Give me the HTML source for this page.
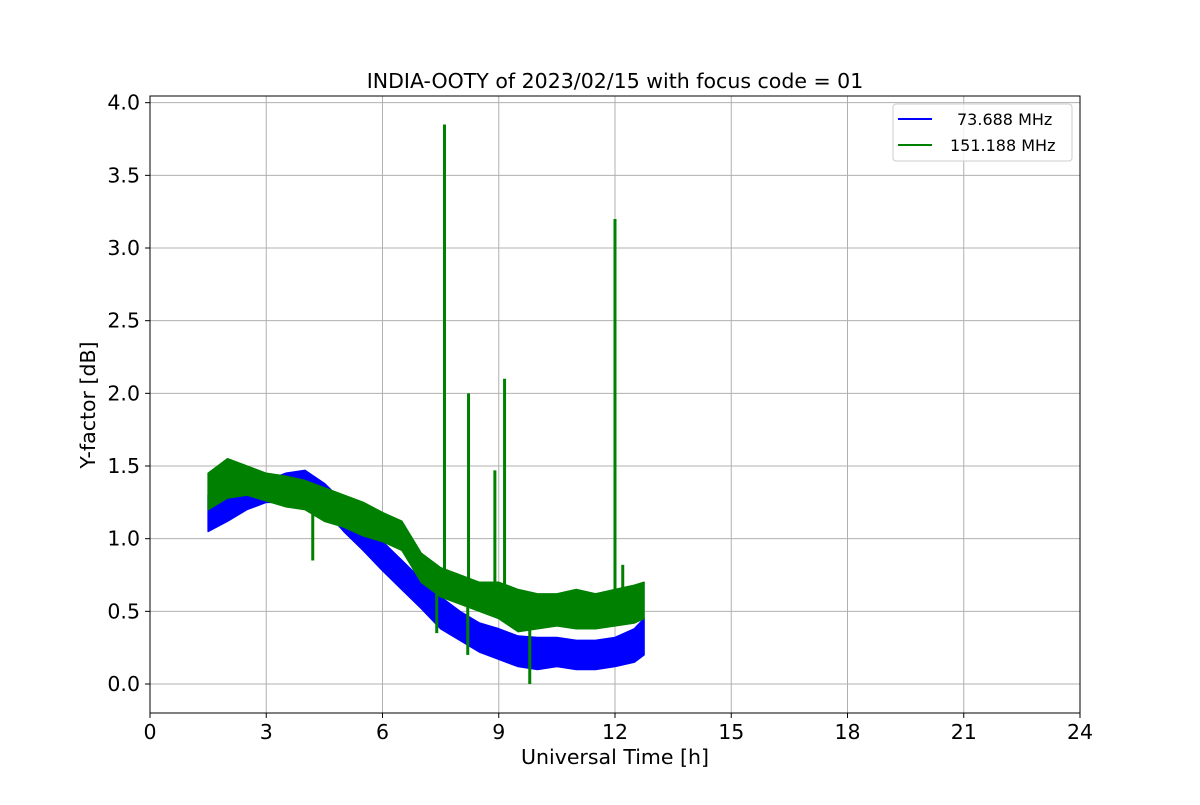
<!DOCTYPE html>
<html><head><meta charset="utf-8"><style>
body{margin:0;background:#fff;width:1200px;height:800px;overflow:hidden}
svg text{font-family:"DejaVu Sans","Liberation Sans",sans-serif;fill:#000}
</style></head><body>
<svg id="chart" width="1200" height="800" xmlns="http://www.w3.org/2000/svg">
<g id="grid"></g>
<g id="series"></g>
<rect x="150" y="96" width="930" height="617" fill="none" stroke="#000" stroke-width="1"/>
<g id="ticks"></g>
<text x="615" y="88" font-size="20.5" text-anchor="middle">INDIA-OOTY of 2023/02/15 with focus code = 01</text>
<text x="615" y="764" font-size="20.5" text-anchor="middle">Universal Time [h]</text>
<text x="95" y="405" font-size="20.5" text-anchor="middle" transform="rotate(-90 95 405)">Y-factor [dB]</text>
<g>
<rect x="893" y="104" width="179" height="57" rx="3" fill="#fff" fill-opacity="0.8" stroke="#ccc"/>
<line x1="898" y1="119" x2="932" y2="119" stroke="#0000ff" stroke-width="2"/>
<text x="957" y="125" font-size="16">73.688 MHz</text>
<line x1="898" y1="145" x2="932" y2="145" stroke="#008000" stroke-width="2"/>
<text x="950" y="151" font-size="16">151.188 MHz</text>
</g>
</svg>
<script>
const xTicks=[0,3,6,9,12,15,18,21,24];
const yTicks=[0.0,0.5,1.0,1.5,2.0,2.5,3.0,3.5,4.0];
const times=[1.5,2,2.5,3,3.5,4,4.5,5,5.5,6,6.5,7,7.5,8,8.5,9,9.5,10,10.5,11,11.5,12,12.5,12.75];
const blueLow=[1.05,1.12,1.2,1.25,1.25,1.3,1.2,1.05,0.92,0.78,0.65,0.52,0.38,0.3,0.22,0.17,0.12,0.1,0.12,0.1,0.1,0.12,0.15,0.2];
const blueHigh=[1.3,1.3,1.35,1.4,1.45,1.47,1.38,1.25,1.1,0.98,0.85,0.72,0.6,0.5,0.42,0.38,0.33,0.32,0.32,0.3,0.3,0.32,0.38,0.45];
const greenLow=[1.2,1.28,1.3,1.26,1.22,1.2,1.12,1.08,1.02,0.98,0.92,0.7,0.6,0.55,0.5,0.45,0.36,0.38,0.4,0.38,0.38,0.4,0.42,0.45];
const greenHigh=[1.45,1.55,1.5,1.45,1.43,1.4,1.35,1.3,1.25,1.18,1.12,0.9,0.8,0.75,0.7,0.7,0.65,0.62,0.62,0.65,0.62,0.65,0.68,0.7];
const spikeT=[7.6,8.22,8.9,9.15,12.0,4.2,8.2,9.8,7.4,12.2];
const spikeV=[3.85,2.0,1.47,2.1,3.2,0.85,0.2,0.0,0.35,0.82];
const spikeBase=[0.7,0.65,0.6,0.6,0.5,1.2,0.6,0.45,0.65,0.55];
const X=t=>150+t*930/24;
const Y=v=>684-v*145.33;
const NS="http://www.w3.org/2000/svg";
const grid=document.getElementById('grid'),ticks=document.getElementById('ticks'),ser=document.getElementById('series');
function mk(tag,attrs,parent){const e=document.createElementNS(NS,tag);for(const k in attrs)e.setAttribute(k,attrs[k]);parent.appendChild(e);return e;}
xTicks.forEach(t=>{
 const g=mk('line',{x1:X(t),x2:X(t),y1:96,y2:713,stroke:'#b0b0b0','stroke-width':1},grid);
 
 
 const tk=mk('line',{x1:X(t),x2:X(t),y1:713,y2:718,stroke:'#000'},ticks);
 
 
 const tx=mk('text',{x:X(t),y:739,'font-size':20.5,'text-anchor':'middle'},ticks);tx.textContent=t;
 
 
});
yTicks.forEach(v=>{
 const g=mk('line',{x1:150,x2:1080,y1:Y(v),y2:Y(v),stroke:'#b0b0b0','stroke-width':1},grid);
 
 
 const tk=mk('line',{x1:145,x2:150,y1:Y(v),y2:Y(v),stroke:'#000'},ticks);
 
 
 const tx=mk('text',{x:140,y:Y(v)+7,'font-size':20.5,'text-anchor':'end'},ticks);tx.textContent=v.toFixed(1);
 
 
});
function band(lo,hi,color,name){
 let pts=times.map((t,i)=>X(t)+','+Y(hi[i]));
 for(let i=times.length-1;i>=0;i--)pts.push(X(times[i])+','+Y(lo[i]));
 const p=mk('polygon',{points:pts.join(' '),fill:color,stroke:color,'stroke-width':1.5,'stroke-linejoin':'round'},ser);
 
 
}
band(blueLow,blueHigh,'#0000ff','series-73mhz');
band(greenLow,greenHigh,'#008000','series-151mhz');
spikeT.forEach((t,i)=>{
 const l=mk('line',{x1:X(t),x2:X(t),y1:Y(spikeBase[i]),y2:Y(spikeV[i]),stroke:'#008000','stroke-width':3},ser);
 
 
});
</script>
</body></html>
